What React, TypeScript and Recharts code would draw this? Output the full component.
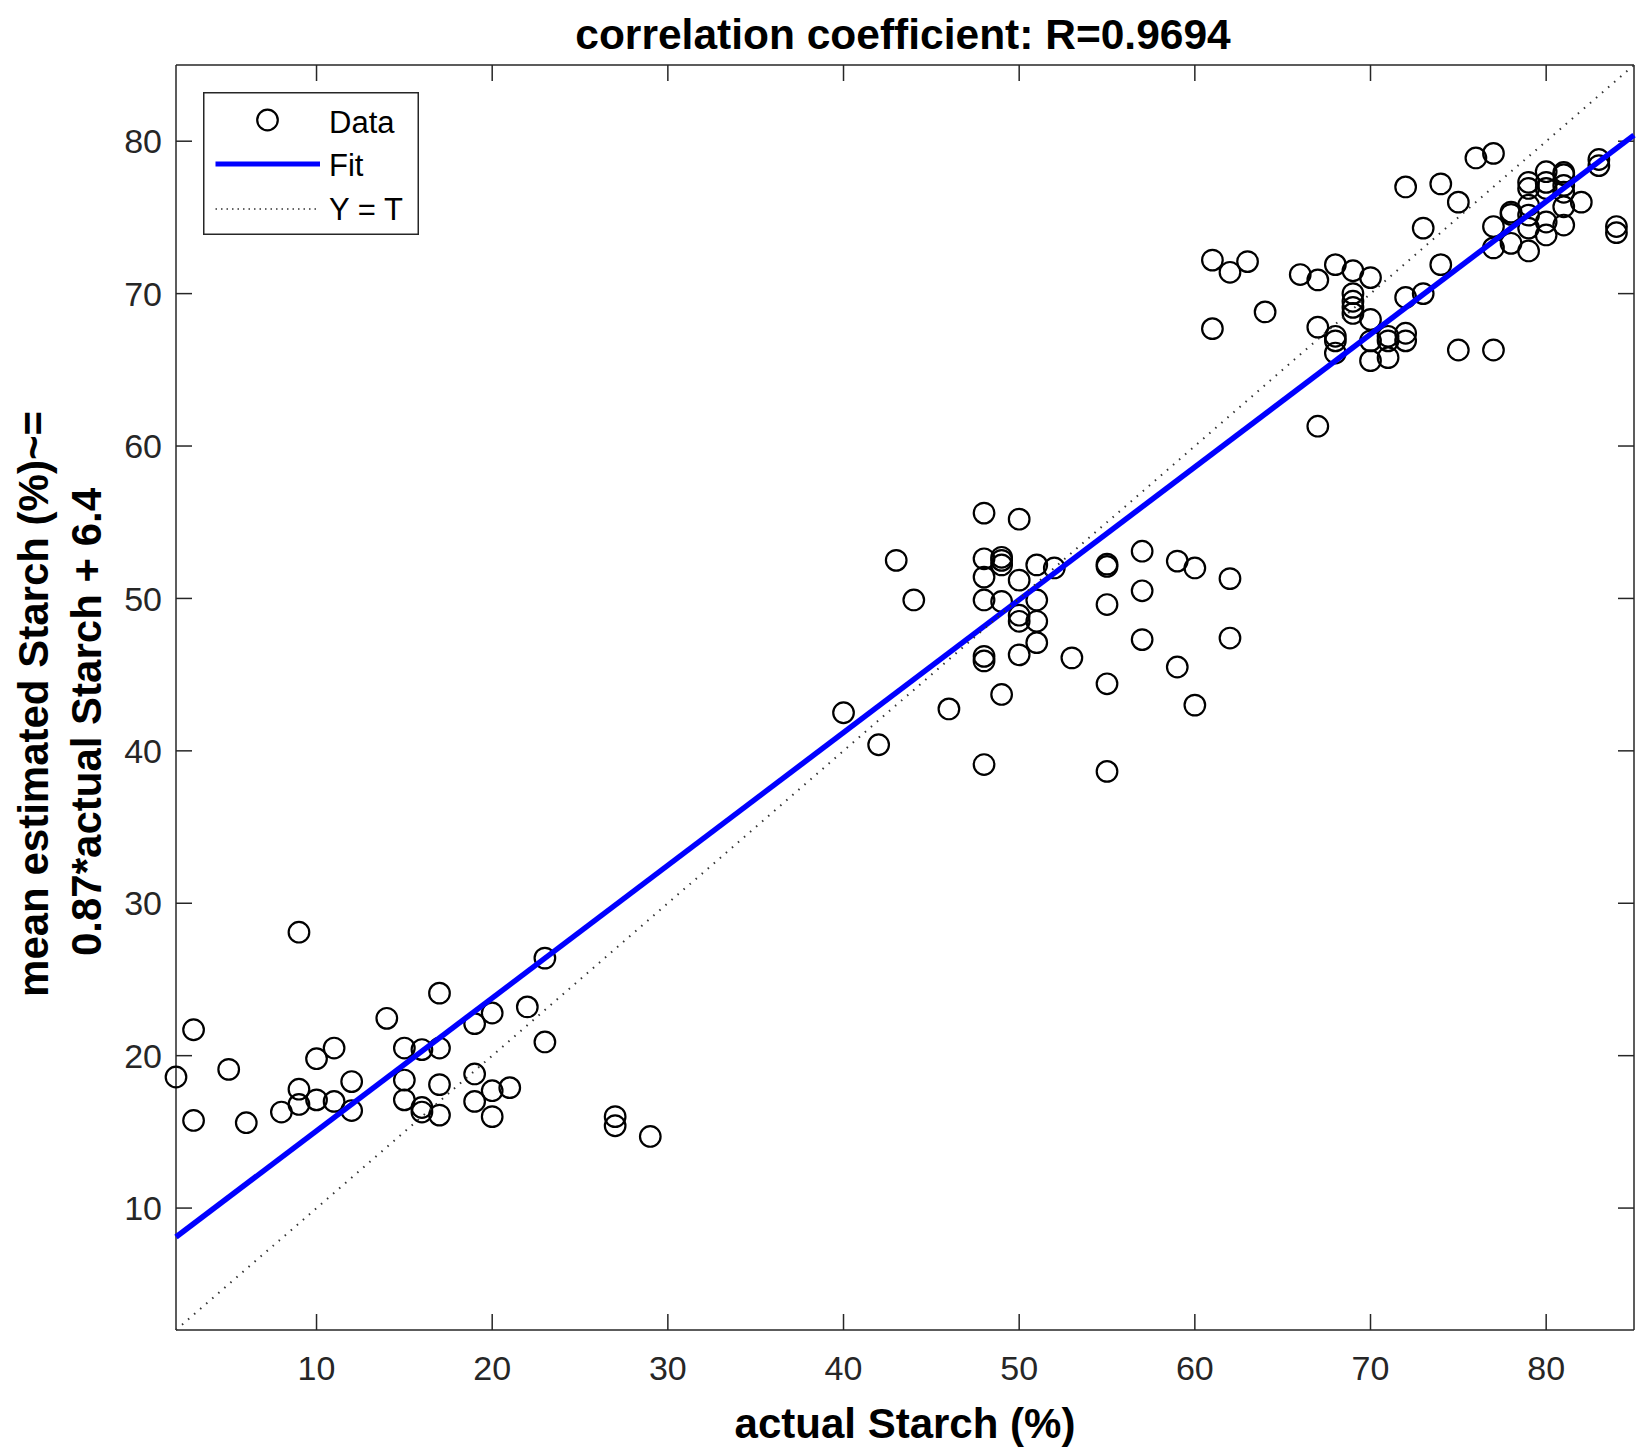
import { Legend, Scatter, ScatterChart, XAxis, YAxis } from 'recharts';

const FONT = '"Liberation Sans", Arial, Helvetica, sans-serif';
const AXIS_COLOR = '#262626';
const FIT_COLOR = '#0000ff';

const TICKS = [10, 20, 30, 40, 50, 60, 70, 80];
const DOMAIN: [number, number] = [2, 85];

// samples around 2-29 % actual starch
const lowActual = [
  2, 3, 3, 5, 6, 8, 9, 9, 9, 10, 10, 11, 11, 12, 12, 14, 15, 15, 15, 16, 16, 16, 17, 17, 17, 17,
  19, 19, 19, 20, 20, 20, 21, 22, 23, 23, 27, 27, 29,
];
const lowEstimated = [
  18.6, 21.7, 15.75, 19.1, 15.6, 16.3, 28.1, 17.8, 16.8, 19.8, 17.1, 20.5, 17.0, 18.3, 16.4, 22.45,
  20.5, 18.4, 17.1, 20.4, 16.6, 16.3, 24.1, 20.5, 18.1, 16.1, 22.1, 18.8, 17.0, 22.8, 17.7, 16.0,
  17.9, 23.2, 26.4, 20.9, 16.0, 15.4, 14.7,
];

// samples around 40-62 %
const midActual = [
  40, 42, 43, 44, 46, 48, 48, 48, 48, 48, 48, 48, 49, 49, 49, 49, 49, 50, 50, 50, 50, 50, 51, 51,
  51, 51, 52, 53, 55, 55, 55, 55, 55, 57, 57, 57, 59, 59, 60, 60, 62, 62,
];
const midEstimated = [
  42.5, 40.4, 52.5, 49.9, 42.75, 55.6, 52.6, 51.4, 49.9, 46.2, 45.9, 39.1, 52.7, 52.5, 52.2, 49.8,
  43.7, 55.2, 51.2, 48.9, 48.5, 46.3, 52.2, 49.9, 48.5, 47.1, 52.0, 46.1, 52.25, 52.1, 49.6, 44.4,
  38.65, 53.1, 50.5, 47.3, 52.45, 45.5, 52.0, 43.0, 51.3, 47.4,
];

// samples around 61-84 %
const highActual = [
  61, 61, 62, 63, 64, 66, 67, 67, 67, 68, 68, 68, 68, 69, 69, 69, 69, 69, 70, 70, 70, 70, 71, 71,
  71, 72, 72, 72, 72, 73, 73, 74, 74, 75, 75, 76, 77, 77, 77, 77, 78, 78, 78, 79, 79, 79, 79, 79,
  79, 80, 80, 80, 80, 80, 81, 81, 81, 81, 81, 81, 82, 83, 83, 84, 84,
];
const highEstimated = [
  72.2, 67.7, 71.4, 72.1, 68.8, 71.25, 70.9, 67.8, 61.3, 71.9, 67.2, 66.9, 66.1, 71.5, 70.0, 69.5,
  69.1, 68.7, 71.05, 68.3, 66.9, 65.6, 67.2, 66.9, 65.8, 77.0, 69.75, 67.4, 66.9, 74.3, 70.0, 77.2,
  71.9, 76.0, 66.3, 78.9, 79.2, 74.4, 73.0, 66.3, 75.35, 75.2, 73.3, 77.3, 76.9, 75.8, 75.15, 74.3,
  72.8, 78.0, 77.3, 76.9, 74.7, 73.85, 77.95, 77.8, 77.1, 76.65, 75.7, 74.5, 76.0, 78.8, 78.4,
  74.4, 74.0,
];

// fitted line end points and the identity line
const fitActual = [2, 85];
const fitEstimated = [8.1, 80.4];
const identityActual = [2, 85];
const identityEstimated = [2, 85];

function toPoints(xs: number[], ys: number[]) {
  return xs.map((x, i) => ({ x, y: ys[i] }));
}

const dataPoints = [
  ...toPoints(lowActual, lowEstimated),
  ...toPoints(midActual, midEstimated),
  ...toPoints(highActual, highEstimated),
];
const fitPoints = toPoints(fitActual, fitEstimated);
const identityPoints = toPoints(identityActual, identityEstimated);

const tickStyle = { fill: AXIS_COLOR, fontSize: 34, fontFamily: FONT };
const lineStyle = { stroke: AXIS_COLOR, strokeWidth: 1.5 };

function Circle(props: any) {
  return <circle cx={props.cx} cy={props.cy} r={10.3} fill="none" stroke="#000" strokeWidth={2.2} />;
}

function NoMarker() {
  return <g />;
}

// top/right axes keep their tick marks but show no numbers
function NoTickLabel() {
  return <g />;
}

function renderTitle() {
  return (
    <text x={903} y={49} textAnchor="middle" fontFamily={FONT} fontWeight="bold" fontSize={42.5} fill="#000">
      correlation coefficient: R=0.9694
    </text>
  );
}

function renderXLabel() {
  return (
    <text x={905} y={1438} textAnchor="middle" fontFamily={FONT} fontWeight="bold" fontSize={42} fill="#000">
      actual Starch (%)
    </text>
  );
}

function renderYLabel() {
  return (
    <g fontFamily={FONT} fontWeight="bold" fontSize={42} fill="#000">
      <text x={33} y={704} textAnchor="middle" dominantBaseline="central" transform="rotate(-90 33 704)">
        mean estimated Starch (%)~=
      </text>
      <text x={86} y={722} textAnchor="middle" dominantBaseline="central" transform="rotate(-90 86 722)">
        0.87*actual Starch + 6.4
      </text>
    </g>
  );
}

function renderLegend() {
  return (
    <svg width={216} height={143} style={{ display: 'block' }}>
      <rect x={0.75} y={0.75} width={214.5} height={141.5} fill="#fff" stroke={AXIS_COLOR} strokeWidth={1.5} />
      <g fontFamily={FONT} fontSize={31} fill="#000">
        <circle cx={64.5} cy={28} r={10.3} fill="none" stroke="#000" strokeWidth={2.2} />
        <text x={126} y={30} dominantBaseline="central">Data</text>
        <line x1={12.5} x2={117} y1={72} y2={72} stroke={FIT_COLOR} strokeWidth={5} />
        <text x={126} y={73} dominantBaseline="central">Fit</text>
        <line x1={12.5} x2={117} y1={117} y2={117} stroke="#333" strokeWidth={1.5} strokeDasharray="1.5 4" />
        <text x={126} y={117} dominantBaseline="central">Y = T</text>
      </g>
    </svg>
  );
}

export default function App() {
  return (
    <div style={{ position: 'absolute', left: 0, top: 0, background: '#fff' }}>
      <ScatterChart width={1636} height={1448} margin={{ top: 64, right: 1, bottom: 58, left: 76 }}>
        <XAxis
          type="number"
          dataKey="x"
          domain={DOMAIN}
          ticks={TICKS}
          interval={0}
          height={60}
          tick={tickStyle}
          tickSize={-16}
          tickMargin={42}
          tickLine={lineStyle}
          axisLine={lineStyle}
          label={renderXLabel}
        />
        <XAxis
          xAxisId="top"
          type="number"
          dataKey="x"
          orientation="top"
          domain={DOMAIN}
          ticks={TICKS}
          interval={0}
          height={1}
          tick={NoTickLabel}
          tickSize={-16}
          tickLine={lineStyle}
          axisLine={lineStyle}
          label={renderTitle}
        />
        <YAxis
          type="number"
          dataKey="y"
          domain={DOMAIN}
          ticks={TICKS}
          interval={0}
          width={100}
          tick={tickStyle}
          tickSize={-16}
          tickMargin={30}
          tickLine={lineStyle}
          axisLine={lineStyle}
          label={renderYLabel}
        />
        <YAxis
          yAxisId="right"
          type="number"
          dataKey="y"
          orientation="right"
          domain={DOMAIN}
          ticks={TICKS}
          interval={0}
          width={1}
          tick={NoTickLabel}
          tickSize={-16}
          tickLine={lineStyle}
          axisLine={lineStyle}
        />
        <Legend
          layout="vertical"
          align="center"
          verticalAlign="middle"
          content={renderLegend}
          wrapperStyle={{ position: 'absolute', left: 203, top: 92, width: 216, height: 143 }}
        />
        <Scatter name="Data" data={dataPoints} shape={Circle} isAnimationActive={false} />
        <Scatter
          name="Fit"
          data={fitPoints}
          shape={NoMarker}
          line={{ stroke: FIT_COLOR, strokeWidth: 5.5 }}
          isAnimationActive={false}
        />
        <Scatter
          name="Y = T"
          xAxisId="top"
          yAxisId="right"
          data={identityPoints}
          shape={NoMarker}
          line={{ stroke: '#333', strokeWidth: 2, strokeDasharray: '1.5 6.5' }}
          isAnimationActive={false}
        />
      </ScatterChart>
    </div>
  );
}
